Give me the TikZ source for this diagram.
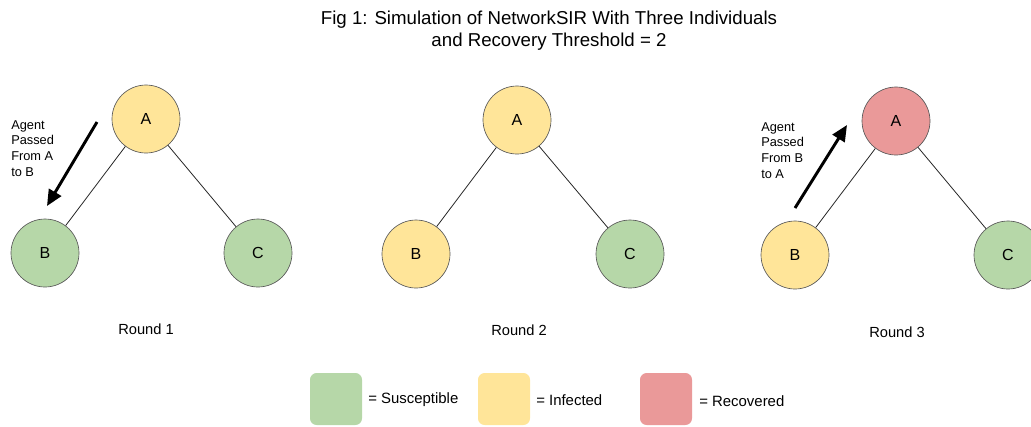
\documentclass[tikz,border=0pt]{standalone}
\usepackage{fontspec}
\setmainfont{Liberation Sans}
\usepackage{tikz}
\usetikzlibrary{arrows.meta}
\definecolor{susc}{HTML}{B6D7A8}
\definecolor{infc}{HTML}{FFE599}
\definecolor{recv}{HTML}{EA9999}
\definecolor{rim}{HTML}{595959}

\begin{document}
\begin{tikzpicture}[x=0.75pt,y=-0.75pt,
  indiv/.style={circle,draw=rim,line width=0.5pt,minimum size=51pt,inner sep=0pt,font=\fontsize{12}{14}\selectfont},
  edge/.style={line width=0.6pt,draw=black!85},
  pass/.style={line width=2.2pt,-{Triangle[length=12pt,width=10.5pt]}},
  note/.style={align=left,anchor=north west,inner sep=0pt,font=\fontsize{9.6}{11.8}\selectfont},
  round/.style={font=\fontsize{11}{13}\selectfont},
  key/.style={rounded corners=5pt,minimum size=39pt,inner sep=0pt},
  keytext/.style={anchor=west,inner sep=0pt,font=\fontsize{11.2}{13}\selectfont}]
\useasboundingbox (0,0) rectangle (1031,426);
\clip (0,0) rectangle (1031,426);
\node[align=center,font=\fontsize{14}{16.5}\selectfont] (title) at (549,31) {Fig 1: Simulation of NetworkSIR With Three Individuals\\and Recovery Threshold = 2};

\node[indiv,fill=infc] (a1) at (146,119) {A};
\node[indiv,fill=susc] (b1) at (45,253) {B};
\node[indiv,fill=susc] (c1) at (258,253) {C};
\draw[edge] (a1) -- (b1);
\draw[edge] (a1) -- (c1);
\coordinate (p1s) at (97,122);
\coordinate (p1e) at (47,206);
\draw[pass] (p1s) -- (p1e);
\node[note] (n1) at (11,120) {Agent\\Passed\\From A\\to B};
\node[round] (r1) at (146,329) {Round 1};

\node[indiv,fill=infc] (a2) at (517,120) {A};
\node[indiv,fill=infc] (b2) at (416,254) {B};
\node[indiv,fill=susc] (c2) at (630,254) {C};
\draw[edge] (a2) -- (b2);
\draw[edge] (a2) -- (c2);
\node[round] (r2) at (519,330) {Round 2};

\node[indiv,fill=recv] (a3) at (896,121) {A};
\node[indiv,fill=infc] (b3) at (795,255) {B};
\node[indiv,fill=susc] (c3) at (1008,255) {C};
\draw[edge] (a3) -- (b3);
\draw[edge] (a3) -- (c3);
\coordinate (p3s) at (795,208);
\coordinate (p3e) at (847,125);
\draw[pass] (p3s) -- (p3e);
\node[note] (n3) at (761,122) {Agent\\Passed\\From B\\to A};
\node[round] (r3) at (897,332) {Round 3};

\node[key,fill=susc] (ks) at (336,399) {};
\node[keytext] (ts) at (368,400) {= Susceptible};
\node[key,fill=infc] (ki) at (504,399) {};
\node[keytext] (ti) at (536,400) {= Infected};
\node[key,fill=recv] (kr) at (666,399) {};
\node[keytext] (tr) at (699,401) {= Recovered};
\end{tikzpicture}
\end{document}
